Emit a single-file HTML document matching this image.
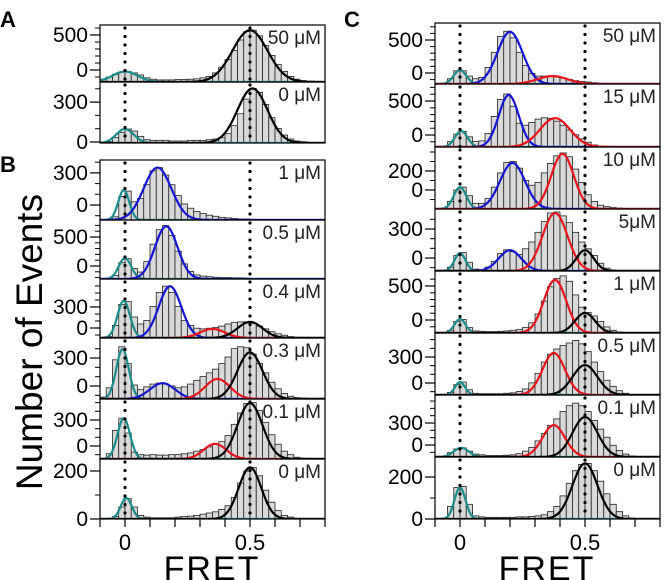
<!DOCTYPE html>
<html><head><meta charset="utf-8"><style>
html,body{margin:0;padding:0;background:#fff;}
svg{display:block;font-family:"Liberation Sans",Arial,sans-serif;}
</style></head><body>
<svg id="chart" width="664" height="580" viewBox="0 0 664 580" xmlns="http://www.w3.org/2000/svg">
<text x="0" y="27" font-size="22" font-weight="bold">A</text>
<text x="0" y="172" font-size="22" font-weight="bold">B</text>
<text x="344" y="27" font-size="22" font-weight="bold">C</text>
<text transform="translate(42,342) rotate(-90)" text-anchor="middle" font-size="37">Number of Events</text>
<text x="212" y="580" text-anchor="middle" font-size="34" letter-spacing="2">FRET</text>
<text x="547" y="580" text-anchor="middle" font-size="34" letter-spacing="2">FRET</text>
</svg>
<script>
// bin centers: -0.0875 + 0.025*i, i = 0..35
const countsA50 = [40,70,110,140,150,130,100,60,40,30,30,30,35,35,40,45,60,80,130,210,320,450,600,720,740,660,520,380,250,150,80,40,20,10,5,0];
const countsA0 = [0,10,40,80,105,90,50,25,20,20,20,15,15,15,20,20,20,25,30,40,70,130,220,330,410,380,290,190,110,60,30,15,10,5,0,0];
const countsB1 = [0,0,30,220,270,170,200,330,460,490,420,330,230,150,110,80,60,45,35,25,20,15,10,10,5,5,0,0,0,0,0,0,0,0,0,0];
const countsB05 = [0,0,60,280,350,180,120,300,600,850,920,750,480,260,130,70,50,40,30,25,25,20,20,15,10,10,5,0,0,0,0,0,0,0,0,0];
const countsB04 = [0,20,180,480,520,300,200,250,450,650,740,650,450,250,180,140,130,140,150,170,200,220,230,230,210,170,130,90,60,40,20,10,5,0,0,0];
const countsB03 = [20,120,420,560,380,150,100,130,160,170,160,140,120,130,160,200,240,280,320,380,450,540,560,550,480,380,280,180,110,60,30,15,10,5,0,0];
const countsB01 = [0,60,330,470,300,80,50,45,50,45,45,50,50,60,70,90,110,140,170,200,270,400,530,640,650,560,420,280,170,90,50,20,10,5,0,0];
const countsB0 = [0,0,10,50,85,50,15,8,5,5,5,5,8,10,12,15,20,25,30,40,55,90,150,200,215,180,120,70,35,15,8,3,0,0,0,0];
const countsC50 = [0,10,80,200,200,120,80,100,250,480,720,800,700,480,280,160,120,120,120,110,90,70,50,40,30,20,10,5,0,0,0,0,0,0,0,0];
const countsC15 = [0,10,80,190,230,150,80,90,200,450,700,780,600,350,320,360,410,430,420,380,320,250,180,120,70,30,15,5,0,0,0,0,0,0,0,0];
const countsC10 = [0,10,80,200,230,140,60,60,110,230,380,490,500,430,300,250,280,380,480,560,590,550,420,280,150,80,40,25,15,10,5,0,0,0,0,0];
const countsC5 = [0,0,40,160,190,90,20,15,40,100,180,220,200,170,230,300,400,510,600,610,570,500,400,300,230,160,80,30,10,5,0,0,0,0,0,0];
const countsC1 = [0,0,40,170,200,80,30,25,20,20,25,30,40,50,80,150,280,470,680,800,840,760,560,380,300,250,170,90,40,15,5,0,0,0,0,0];
const countsC05 = [0,0,30,120,150,60,20,15,15,15,15,20,25,40,70,140,250,380,470,530,570,600,630,590,500,380,270,170,100,50,20,5,0,0,0,0];
const countsC01 = [0,10,60,110,125,80,40,30,20,20,20,25,30,45,80,130,220,320,430,520,620,700,735,700,620,500,380,270,160,90,40,15,5,0,0,0];
const countsC0 = [0,5,60,150,155,70,15,10,8,8,8,8,8,10,10,12,15,20,35,60,110,170,230,260,265,230,180,120,70,35,15,5,0,0,0,0];
// gaussian fit components: [color, amplitude, center, sigma]
const fitsA50 = [["teal",150,0,0.05],["black",740,0.5,0.07]];
const fitsA0 = [["teal",105,0.0,0.035],["black",410,0.51,0.06]];
const fitsB1 = [["teal",280,-0.005,0.022],["blue",490,0.13,0.055]];
const fitsB05 = [["teal",360,0,0.025],["blue",910,0.165,0.045]];
const fitsB04 = [["teal",530,-0.005,0.025],["blue",740,0.18,0.045],["red",130,0.35,0.05],["black",230,0.5,0.05]];
const fitsB03 = [["teal",535,-0.01,0.025],["blue",170,0.15,0.05],["red",215,0.37,0.05],["black",500,0.5,0.05]];
const fitsB01 = [["teal",470,-0.005,0.025],["red",175,0.36,0.045],["black",645,0.5,0.05]];
const fitsB0 = [["teal",88,0.005,0.022],["black",215,0.5,0.045]];
const fitsC50 = [["teal",210,0,0.025],["blue",790,0.2,0.05],["red",120,0.37,0.06]];
const fitsC15 = [["teal",235,0.005,0.025],["blue",765,0.195,0.04],["red",425,0.38,0.06]];
const fitsC10 = [["teal",230,0,0.025],["blue",485,0.21,0.05],["red",580,0.41,0.045]];
const fitsC5 = [["teal",185,0,0.022],["blue",215,0.2,0.045],["red",600,0.38,0.05],["black",215,0.5,0.035]];
const fitsC1 = [["teal",205,0,0.022],["red",780,0.38,0.045],["black",295,0.5,0.04]];
const fitsC05 = [["teal",150,0,0.02],["red",485,0.375,0.045],["black",345,0.5,0.05]];
const fitsC01 = [["teal",125,0.005,0.03],["red",435,0.375,0.045],["black",545,0.5,0.05]];
const fitsC0 = [["teal",150,0,0.022],["black",265,0.5,0.05]];
const labelsLeft = ["50 \u03bcM","0 \u03bcM","1 \u03bcM","0.5 \u03bcM","0.4 \u03bcM","0.3 \u03bcM","0.1 \u03bcM","0 \u03bcM"];
const labelsRight = ["50 \u03bcM","15 \u03bcM","10 \u03bcM","5\u03bcM","1 \u03bcM","0.5 \u03bcM","0.1 \u03bcM","0 \u03bcM"];
const ticksA50=[0,500],ticksA0=[0,300],ticksB1=[0,300],ticksB05=[0,500],ticksB04=[0,300],ticksB03=[0,300],ticksB01=[0,300],ticksB0=[0,200];
const ticksC50=[0,500],ticksC15=[0,500],ticksC10=[0,200],ticksC5=[0,300],ticksC1=[0,500],ticksC05=[0,300],ticksC01=[0,300],ticksC0=[0,200];
const xTicks=[-0.1,0,0.1,0.2,0.3,0.4,0.5,0.6,0.7,0.8];
const xTickLabels=[["0",0],["0.5",0.5]];

const colors={teal:"#1b8c8c",blue:"#1414d2",red:"#e8141a",black:"#000"};
const NS="http://www.w3.org/2000/svg";
const svg=document.getElementById('chart');
function mk(tag,attrs,parent){const e=document.createElementNS(NS,tag);for(const k in attrs)e.setAttribute(k,attrs[k]);(parent||svg).appendChild(e);return e;}

// layout: [top, bottom, zeroY, pxPerEvent, minorStep]
const leftLayout=[[25,82,70,0.07,100],[82,143,142,0.133,100],[160,220,205,0.107,100],[220,279,266,0.058,100],[279,338,328,0.07,100],[338,399,386,0.0933,100],[399,459,446,0.0867,100],[459,519,519,0.24,100]];
const rightLayout=[[23,84,73,0.066,100],[84,147,135,0.068,100],[147,209,190,0.095,100],[209,271,258,0.0967,100],[271,333,320,0.068,100],[333,395,383,0.0867,100],[395,457,445,0.0733,100],[457,519,519,0.21,100]];
const leftData=[[countsA50,fitsA50,ticksA50],[countsA0,fitsA0,ticksA0],[countsB1,fitsB1,ticksB1],[countsB05,fitsB05,ticksB05],[countsB04,fitsB04,ticksB04],[countsB03,fitsB03,ticksB03],[countsB01,fitsB01,ticksB01],[countsB0,fitsB0,ticksB0]];
const rightData=[[countsC50,fitsC50,ticksC50],[countsC15,fitsC15,ticksC15],[countsC10,fitsC10,ticksC10],[countsC5,fitsC5,ticksC5],[countsC1,fitsC1,ticksC1],[countsC05,fitsC05,ticksC05],[countsC01,fitsC01,ticksC01],[countsC0,fitsC0,ticksC0]];

function drawColumn(x0,layout,data,labels,col){
  const xs=v=>x0+(v+0.1)*250;
  const bw=0.025;
  layout.forEach((L,p)=>{
    const [top,bot,zy,k,minor]=L;
    const [counts,fits,ticks]=data[p];
    const g=mk('g',{});
    
    
    const clipId='clip'+col+p;
    const cp=mk('clipPath',{id:clipId},g);mk('rect',{x:xs(-0.1),y:top,width:225,height:bot-top},cp);
    const inner=mk('g',{'clip-path':'url(#'+clipId+')'},g);
    counts.forEach((c,i)=>{
      const x=xs(-0.1+i*bw);
      const h=c*k;
      if(h<=0)return;
      const r=mk('rect',{x:x,y:bot-h,width:bw*250,height:h,fill:'#d9d9d9',stroke:'#222','stroke-width':0.8},inner);
      
      
    });
    fits.forEach(f=>{
      const [cname,amp,c,s]=f;
      let d='';
      for(let j=0;j<=225;j++){const v=-0.1+j/250;const y=bot-k*amp*Math.exp(-(v-c)*(v-c)/(2*s*s));d+=(j?'L':'M')+xs(v).toFixed(1)+','+y.toFixed(1);}
      const pth=mk('path',{d:d,fill:'none',stroke:colors[cname],'stroke-width':2.2},inner);
      
      
    });
    [0,0.5].forEach(v=>{
      const ln=mk('line',{x1:xs(v),x2:xs(v),y1:top+3,y2:bot,stroke:'#000','stroke-width':3.2,'stroke-linecap':'round','stroke-dasharray':'0 8.5'},g);
      
      
    });
    const fr=mk('rect',{x:xs(-0.1),y:top,width:225,height:bot-top,fill:'none',stroke:'#000','stroke-width':1.2},g);
    
    
    for(let v=-minor*10;v<=2000;v+=minor){const y=zy-v*k;if(y<top+2||y>bot-1)continue;
      const t=mk('line',{x1:xs(-0.1)-5,x2:xs(-0.1),y1:y,y2:y,stroke:'#000','stroke-width':1},g);
      
      }
    ticks.forEach(v=>{const y=zy-v*k;
      const t=mk('line',{x1:xs(-0.1)-10,x2:xs(-0.1),y1:y,y2:y,stroke:'#000','stroke-width':1.2},g);
      
      
      const tx=mk('text',{x:xs(-0.1)-12,y:y+7,'text-anchor':'end','font-size':21},g);tx.textContent=String(v);
      
      });
    const lb=mk('text',{x:xs(0.8)-4,y:top+19,'text-anchor':'end','font-size':19,fill:'#222'},g);lb.textContent=labels[p];
    
    
  });
  const bot=layout[layout.length-1][1];
  xTicks.forEach(v=>{const t=mk('line',{x1:xs(v),x2:xs(v),y1:bot,y2:bot+8,stroke:'#000','stroke-width':1.2});
    
    });
  xTickLabels.forEach(([s,v])=>{const t=mk('text',{x:xs(v),y:bot+31,'text-anchor':'middle','font-size':22});t.textContent=s;
    
    });
}
drawColumn(100,leftLayout,leftData,labelsLeft,'left');
drawColumn(435,rightLayout,rightData,labelsRight,'right');
</script>
</body></html>
